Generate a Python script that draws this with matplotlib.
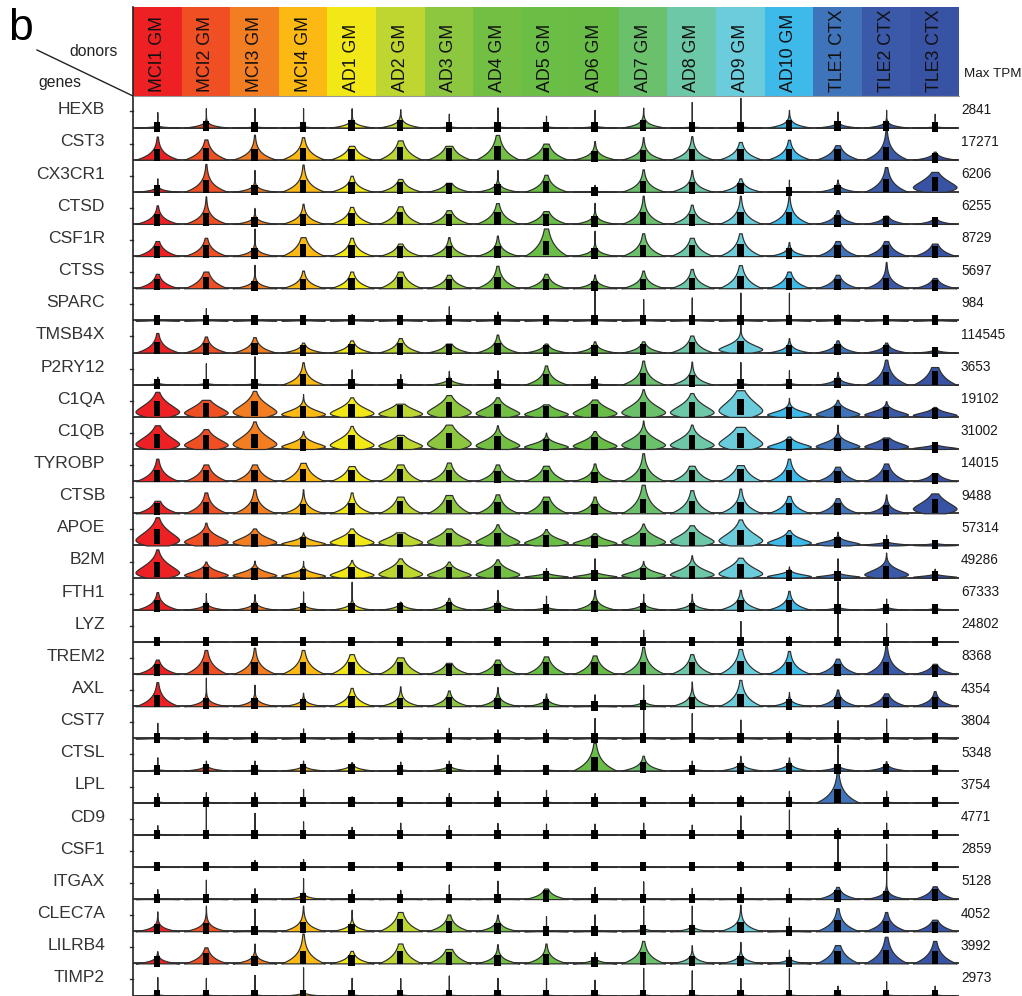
import numpy as np
import matplotlib
matplotlib.use("Agg")
import matplotlib.pyplot as plt
from matplotlib.patches import Rectangle
from matplotlib.lines import Line2D

plt.rcParams['font.family'] = ['Liberation Sans', 'DejaVu Sans']

# donors (columns) and their colours
donors = ["MCI1 GM", "MCI2 GM", "MCI3 GM", "MCI4 GM", "AD1 GM", "AD2 GM", "AD3 GM",
          "AD4 GM", "AD5 GM", "AD6 GM", "AD7 GM", "AD8 GM", "AD9 GM", "AD10 GM",
          "TLE1 CTX", "TLE2 CTX", "TLE3 CTX"]
donor_colors = ["#ED2024", "#F04E23", "#F37D21", "#FDB913", "#F2E818", "#BED62F",
                "#8DC63F", "#72BF44", "#6ABD45", "#69BC46", "#6BC06B", "#6DC8A8",
                "#6BCCDC", "#3DB9EA", "#3F74BA", "#3A59A8", "#3953A4"]

genes = ["HEXB", "CST3", "CX3CR1", "CTSD", "CSF1R", "CTSS", "SPARC", "TMSB4X",
         "P2RY12", "C1QA", "C1QB", "TYROBP", "CTSB", "APOE", "B2M", "FTH1", "LYZ",
         "TREM2", "AXL", "CST7", "CTSL", "LPL", "CD9", "CSF1", "ITGAX", "CLEC7A",
         "LILRB4", "TIMP2"]
max_tpm = [2841, 17271, 6206, 6255, 8729, 5697, 984, 114545, 3653, 19102, 31002,
           14015, 9488, 57314, 49286, 67333, 24802, 8368, 4354, 3804, 5348, 3754,
           4771, 2859, 5128, 4052, 3992, 2973]

# highest expression per donor, % of the gene's max TPM
peak = [
    [48, 60, 60, 60, 60, 57, 43, 62, 37, 55, 62, 79, 92, 55, 50, 55, 43],
    [72, 63, 78, 70, 43, 60, 43, 77, 50, 58, 70, 73, 55, 62, 45, 98, 25],
    [42, 87, 68, 85, 50, 40, 28, 68, 53, 22, 70, 68, 42, 38, 38, 77, 62],
    [58, 86, 50, 63, 53, 55, 43, 65, 40, 66, 88, 60, 88, 88, 43, 26, 16],
    [47, 57, 86, 59, 57, 39, 59, 64, 86, 79, 71, 57, 71, 44, 47, 47, 39],
    [45, 52, 73, 55, 52, 52, 42, 70, 45, 43, 55, 60, 72, 52, 42, 82, 32],
    [11, 38, 13, 11, 20, 9, 44, 28, 11, 95, 66, 71, 86, 86, 19, 6, 6],
    [61, 50, 48, 31, 38, 45, 28, 56, 28, 35, 35, 53, 88, 45, 38, 31, 10],
    [25, 67, 88, 70, 48, 33, 43, 45, 60, 27, 75, 72, 70, 45, 40, 78, 55],
    [78, 53, 81, 71, 61, 41, 68, 61, 39, 54, 86, 74, 83, 59, 53, 49, 31],
    [74, 62, 86, 56, 72, 44, 76, 74, 51, 56, 89, 76, 69, 39, 76, 36, 19],
    [70, 52, 52, 57, 47, 52, 58, 52, 48, 55, 87, 48, 50, 70, 45, 55, 25],
    [39, 65, 75, 75, 65, 52, 57, 59, 52, 52, 89, 72, 77, 54, 47, 59, 62],
    [88, 71, 53, 41, 53, 41, 53, 66, 51, 38, 68, 63, 81, 48, 43, 33, 15],
    [88, 50, 53, 52, 55, 60, 50, 57, 30, 60, 52, 70, 62, 35, 60, 78, 28],
    [55, 52, 49, 57, 87, 25, 37, 62, 44, 62, 50, 50, 62, 59, 89, 35, 12],
    [13, 8, 8, 13, 8, 8, 13, 13, 8, 8, 38, 13, 65, 18, 95, 58, 10],
    [45, 75, 82, 75, 62, 52, 35, 45, 55, 58, 85, 62, 78, 72, 48, 95, 32],
    [75, 89, 67, 42, 57, 62, 49, 60, 40, 37, 67, 77, 82, 44, 52, 40, 47],
    [48, 23, 23, 31, 23, 25, 33, 28, 28, 63, 96, 78, 58, 23, 56, 61, 18],
    [41, 31, 31, 31, 26, 28, 31, 49, 18, 86, 46, 31, 46, 41, 81, 29, 16],
    [30, 33, 33, 43, 20, 12, 30, 37, 40, 30, 18, 27, 23, 37, 95, 37, 10],
    [30, 95, 68, 42, 25, 38, 30, 37, 35, 35, 38, 32, 60, 78, 22, 38, 10],
    [12, 12, 22, 25, 12, 7, 7, 9, 7, 9, 12, 12, 19, 12, 94, 72, 4],
    [31, 60, 34, 65, 31, 29, 45, 57, 33, 38, 55, 35, 38, 35, 38, 95, 40],
    [62, 80, 70, 80, 67, 60, 52, 52, 47, 52, 80, 80, 83, 43, 72, 60, 36],
    [38, 50, 62, 93, 39, 62, 45, 60, 62, 36, 70, 57, 67, 43, 57, 83, 70],
    [57, 55, 64, 88, 55, 54, 62, 55, 54, 49, 86, 78, 54, 85, 31, 44, 31],
]

# height of the dense part of each distribution, % of max TPM
body = [
    [3, 10, 2, 2, 12, 15, 2, 2, 2, 3, 15, 2, 2, 15, 8, 10, 2],
    [30, 35, 30, 35, 30, 40, 35, 45, 35, 20, 25, 30, 30, 30, 30, 40, 12],
    [8, 35, 12, 35, 25, 25, 20, 15, 30, 2, 30, 25, 20, 2, 12, 40, 50],
    [25, 30, 12, 25, 30, 35, 28, 35, 28, 15, 35, 28, 35, 35, 20, 15, 10],
    [28, 30, 15, 40, 30, 25, 25, 25, 55, 15, 35, 35, 38, 15, 30, 30, 28],
    [25, 35, 15, 25, 28, 35, 25, 35, 25, 15, 25, 30, 40, 30, 25, 30, 20],
    [2, 2, 2, 2, 2, 2, 2, 2, 2, 2, 2, 2, 2, 2, 2, 2, 2],
    [30, 25, 25, 15, 20, 25, 20, 25, 15, 15, 18, 30, 35, 15, 18, 15, 5],
    [3, 3, 3, 30, 3, 3, 10, 3, 30, 3, 35, 25, 3, 3, 12, 40, 45],
    [55, 45, 55, 30, 40, 35, 50, 40, 30, 40, 50, 50, 70, 25, 30, 25, 20],
    [55, 45, 55, 28, 45, 35, 60, 40, 25, 35, 45, 45, 60, 25, 30, 28, 10],
    [35, 35, 35, 40, 35, 40, 35, 30, 35, 25, 40, 35, 40, 35, 30, 35, 18],
    [28, 35, 35, 25, 30, 40, 45, 35, 38, 25, 50, 40, 35, 30, 28, 20, 50],
    [60, 40, 35, 20, 35, 35, 40, 40, 30, 25, 40, 45, 55, 30, 18, 8, 5],
    [55, 28, 25, 20, 30, 40, 30, 35, 10, 12, 25, 35, 45, 15, 10, 35, 8],
    [25, 10, 12, 8, 12, 10, 15, 12, 5, 20, 10, 12, 25, 25, 5, 5, 3],
    [2, 2, 2, 2, 2, 2, 2, 2, 2, 2, 2, 2, 2, 2, 2, 2, 2],
    [25, 40, 35, 40, 40, 40, 25, 28, 35, 35, 40, 35, 45, 35, 28, 40, 20],
    [35, 15, 15, 12, 28, 20, 22, 18, 12, 2, 8, 22, 40, 12, 22, 25, 22],
    [2, 2, 2, 2, 2, 2, 2, 2, 2, 2, 2, 2, 2, 2, 2, 2, 2],
    [2, 8, 2, 8, 10, 2, 8, 2, 2, 45, 20, 3, 12, 12, 8, 10, 2],
    [2, 2, 2, 2, 2, 2, 2, 2, 2, 2, 2, 2, 2, 2, 45, 2, 2],
    [2, 2, 2, 2, 2, 2, 2, 2, 2, 2, 2, 2, 2, 2, 2, 2, 2],
    [2, 2, 2, 2, 2, 2, 2, 2, 2, 2, 2, 2, 2, 2, 2, 2, 2],
    [2, 2, 2, 8, 2, 2, 2, 2, 20, 2, 2, 2, 2, 2, 20, 15, 25],
    [15, 20, 3, 25, 15, 40, 28, 18, 2, 2, 5, 8, 25, 2, 35, 30, 25],
    [12, 28, 15, 40, 20, 40, 35, 20, 25, 8, 35, 15, 15, 8, 40, 45, 40],
    [2, 2, 2, 5, 2, 2, 2, 2, 2, 2, 2, 2, 2, 2, 2, 2, 2],
]

# genes whose distributions are lifted off zero (rounded violins)
round_genes = ["C1QA", "C1QB", "APOE", "B2M"]
round_cells = [("CX3CR1", 16), ("CTSB", 16), ("TMSB4X", 12)]

W, H = 1022, 996
fig = plt.figure(figsize=(W / 100, H / 100), dpi=100)

x0, x1 = 133, 959
pitch = 32.15
base0 = 127.5
n_genes = len(genes)
n_don = len(donors)
top_px = base0 - pitch
ax_bottom_val = -(H - (base0 + (n_genes - 1) * pitch)) / pitch

# header band with donor names
hax = fig.add_axes([x0 / W, (H - 96) / H, (x1 - x0) / W, 89 / H])
hax.set_xlim(0, n_don)
hax.set_ylim(0, 1)
hax.axis('off')
for i, (name, col) in enumerate(zip(donors, donor_colors)):
    hax.add_patch(Rectangle((i, 0), 1, 1, facecolor=col, edgecolor='none'))
    hax.text(i + 0.5, 0.05, name, rotation=90, ha='center', va='bottom',
             fontsize=12.8, color='#111111')

# violin rows
ax = fig.add_axes([x0 / W, 0, (x1 - x0) / W, (H - top_px) / H])
ax.set_xlim(0, n_don)
ax.set_ylim(ax_bottom_val, n_genes)
ax.axis('off')


def half_width(ys, b, rounded):
    if rounded:
        c = 0.3 * b
        g = np.where(ys < c, 1 - 0.5 * ((c - ys) / c) ** 2,
                     np.exp(-np.abs((ys - c) / (0.62 * b)) ** 1.5))
    else:
        g = np.exp(-ys / max(b / 1.5, 0.004))
    return 0.45 * g


for gi, gene in enumerate(genes):
    base = n_genes - 1 - gi
    ax.plot([0, n_don], [base, base], color='#2a2a2a', lw=1.3, zorder=1,
            solid_capstyle='butt')
    # left tick
    ax.plot([-0.065, 0], [base + 0.5, base + 0.5], color='#333333', lw=1.0,
            clip_on=False)
    ax.text(-0.576, base + 0.55, gene, ha='right', va='center', fontsize=12.6,
            color='#333333', clip_on=False)
    ax.text(n_don + 0.04, base + 0.55, str(max_tpm[gi]), ha='left', va='center',
            fontsize=9.8, color='#1a1a1a', clip_on=False)
    for di in range(n_don):
        xc = di + 0.5
        p = peak[gi][di] / 100
        b = body[gi][di] / 100
        rounded = (gene in round_genes) or ((gene, di) in round_cells)
        ys = np.linspace(0, p, 300)
        hw = half_width(ys, b, rounded)
        hw[-1] = 0
        ax.fill_betweenx(base + ys, xc - hw, xc + hw, facecolor=donor_colors[di],
                         edgecolor='#2e2e2e', lw=0.85, zorder=2)
        lo = -0.14 + 0.3 * b
        hi = 0.15 + 0.6 * b
        ax.add_patch(Rectangle((xc - 0.065, base + lo), 0.13, hi - lo,
                               facecolor='black', edgecolor='none', zorder=3))

# frame lines: left axis and line under header
fig.add_artist(Line2D([x0 / W, x0 / W], [0, (H - 7) / H], color='#222222', lw=1.2))
fig.add_artist(Line2D([x0 / W, x1 / W], [(H - 96) / H, (H - 96) / H],
                      color='#999999', lw=0.8))

# corner labels
fig.text(8 / W, (H - 28) / H, "b", fontsize=32, ha='left', va='center')
fig.text(118 / W, (H - 51) / H, "donors", fontsize=11.3, ha='right', va='center',
         color='#222222')
fig.text(38 / W, (H - 82) / H, "genes", fontsize=11.3, ha='left', va='center',
         color='#222222')
fig.add_artist(Line2D([37 / W, x0 / W], [(H - 50) / H, (H - 96) / H],
                      color='#222222', lw=1.0))
fig.text(964 / W, (H - 74) / H, "Max TPM", fontsize=9.6, ha='left', va='center',
         color='#1a1a1a')

fig.savefig("out.png", dpi=100)
